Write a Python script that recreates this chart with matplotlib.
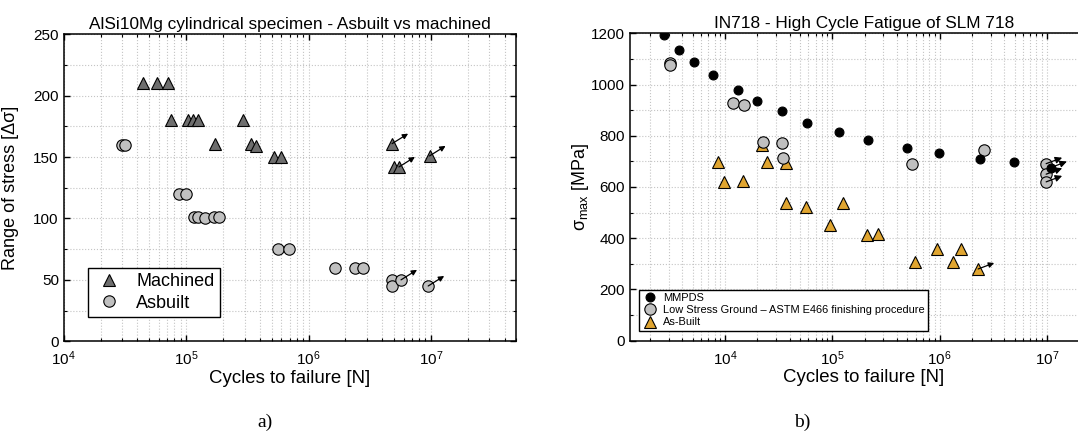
import matplotlib
matplotlib.use("Agg")
import matplotlib.pyplot as plt
from matplotlib.ticker import LogLocator, MultipleLocator, NullFormatter
from matplotlib.transforms import offset_copy

plt.rcParams['font.family'] = ['Liberation Sans', 'DejaVu Sans']
plt.rcParams['mathtext.default'] = 'regular'

# ---- a) AlSi10Mg: machined vs as-built ----
mach_N = [4.46e4, 5.8e4, 7.1e4, 7.5e4, 1.04e5, 1.14e5, 1.25e5, 2.94e5, 1.73e5,
          3.4e5, 3.7e5, 5.27e5, 5.96e5, 4.82e6, 4.98e6, 5.48e6, 9.75e6]
mach_S = [210, 210, 210, 180, 180, 180, 180, 180, 161,
          161, 159, 150, 150, 161, 142, 142, 151]
mach_runout = [False] * 13 + [True, False, True, True]

asb_N = [3.02e4, 3.16e4, 8.67e4, 9.94e4, 1.15e5, 1.25e5, 1.44e5, 1.70e5, 1.84e5,
         5.62e5, 6.87e5, 1.64e6, 2.39e6, 2.81e6, 4.84e6, 4.84e6, 5.7e6, 9.5e6]
asb_S = [160, 160, 120, 120, 101, 101, 100, 101, 101,
         75, 75, 60, 60, 60, 50, 45, 50, 45]
asb_runout = [False] * 16 + [True, True]

# ---- b) IN718 ----
mmpds_N = [2.7e3, 3.7e3, 5.12e3, 7.8e3, 1.32e4, 1.97e4, 3.37e4, 5.86e4, 1.15e5,
           2.17e5, 4.92e5, 9.97e5, 2.36e6, 4.89e6, 1.09e7]
mmpds_S = [1192, 1134, 1089, 1037, 979, 934, 895, 851, 816,
           784, 753, 733, 709, 696, 676]
mmpds_runout = [False] * 14 + [True]

lsg_N = [3.1e3, 3.1e3, 1.19e4, 1.5e4, 2.27e4, 3.4e4, 3.5e4, 5.53e5, 2.62e6,
         9.85e6, 9.85e6, 9.85e6]
lsg_S = [1085, 1075, 926, 920, 775, 771, 712, 691, 743, 691, 650, 620]
lsg_runout = [False] * 9 + [True, True, True]

ab_N = [8.57e3, 9.8e3, 1.48e4, 2.21e4, 2.49e4, 3.71e4, 3.71e4, 5.73e4, 1.26e5,
        9.6e4, 2.12e5, 2.69e5, 5.92e5, 9.47e5, 1.34e6, 1.57e6, 2.29e6]
ab_S = [696, 621, 624, 764, 696, 692, 538, 521, 538,
        450, 414, 417, 307, 358, 307, 358, 280]
ab_runout = [False] * 16 + [True]

fig = plt.figure(figsize=(10.78, 4.44), dpi=100)


def runout_arrows(ax, xs, ys, flags, dx, dy, ms=8):
    head = offset_copy(ax.transData, fig=fig, x=dx, y=dy, units='dots')
    for x, y, f in zip(xs, ys, flags):
        if f:
            ax.annotate('', xy=(x, y), xycoords=head, xytext=(x, y), textcoords='data',
                        arrowprops=dict(arrowstyle='-|>', color='k', lw=0.9,
                                        mutation_scale=ms, shrinkA=0, shrinkB=0),
                        zorder=5)


def style_axes(ax):
    ax.grid(True, which='both', color='#c4c4c4', linestyle=':', linewidth=0.8)
    ax.set_axisbelow(True)
    ax.tick_params(which='both', direction='in', top=True, right=True, labelsize=11)
    ax.tick_params(axis='x', pad=6)
    ax.tick_params(which='major', length=4.5, width=1)
    ax.tick_params(which='minor', length=2.5, width=0.8)
    for s in ax.spines.values():
        s.set_linewidth(1.1)


# left panel
ax1 = fig.add_axes([0.0591, 0.2315, 0.420, 0.691])
ax1.set_xscale('log')
ax1.plot(mach_N, mach_S, '^', ms=8.2, mfc='#6e6e6e', mec='k', mew=0.8,
         ls='none', label='Machined', zorder=3)
ax1.plot(asb_N, asb_S, 'o', ms=8.2, mfc='#c0c0c0', mec='k', mew=0.8,
         ls='none', label='Asbuilt', zorder=3)
runout_arrows(ax1, mach_N, mach_S, mach_runout, 16, 10)
runout_arrows(ax1, asb_N, asb_S, asb_runout, 16, 10)
ax1.set_xlim(1e4, 5e7)
ax1.set_ylim(0, 250)
ax1.yaxis.set_major_locator(MultipleLocator(50))
ax1.yaxis.set_minor_locator(MultipleLocator(25))
ax1.xaxis.set_minor_locator(LogLocator(base=10, subs=range(2, 10)))
ax1.xaxis.set_minor_formatter(NullFormatter())
style_axes(ax1)
ax1.set_title('AlSi10Mg cylindrical specimen - Asbuilt vs machined', fontsize=12.4, pad=4)
ax1.set_xlabel('Cycles to failure [N]', fontsize=13.4, labelpad=1)
ax1.set_ylabel('Range of stress [Δσ]', fontsize=13)
ax1.yaxis.set_label_coords(-0.099, 0.5)
leg1 = ax1.legend(loc='lower left', bbox_to_anchor=(0.053, 0.079), borderaxespad=0,
                  fontsize=13, fancybox=False, framealpha=1, edgecolor='k',
                  handletextpad=0.6, labelspacing=0.25, borderpad=0.3, handlelength=1.8)
leg1.get_frame().set_linewidth(1.0)

# right panel
ax2 = fig.add_axes([0.5843, 0.2327, 0.4343, 0.6923])
ax2.set_xscale('log')
ax2.plot(mmpds_N, mmpds_S, 'o', ms=6.4, mfc='k', mec='k', mew=0.8,
         ls='none', label='MMPDS', zorder=4)
ax2.plot(lsg_N, lsg_S, 'o', ms=8.2, mfc='#c0c0c0', mec='k', mew=0.8, ls='none',
         label='Low Stress Ground \u2013 ASTM E466 finishing procedure', zorder=3)
ax2.plot(ab_N, ab_S, '^', ms=8.2, mfc='#e0a530', mec='k', mew=0.8,
         ls='none', label='As-Built', zorder=2)
runout_arrows(ax2, mmpds_N, mmpds_S, mmpds_runout, 16, 6, ms=10)
runout_arrows(ax2, lsg_N, lsg_S, lsg_runout, 16, 6, ms=10)
runout_arrows(ax2, ab_N, ab_S, ab_runout, 16, 6)
ax2.set_xlim(1.3e3, 3e7)
ax2.set_ylim(0, 1200)
ax2.yaxis.set_major_locator(MultipleLocator(200))
ax2.yaxis.set_minor_locator(MultipleLocator(100))
ax2.xaxis.set_minor_locator(LogLocator(base=10, subs=range(2, 10)))
ax2.xaxis.set_minor_formatter(NullFormatter())
style_axes(ax2)
ax2.spines['right'].set_visible(False)
ax2.set_title('IN718 - High Cycle Fatigue of SLM 718', fontsize=12.4, pad=4)
ax2.set_xlabel('Cycles to failure [N]', fontsize=13.4, labelpad=1)
ax2.set_ylabel('σ$_{max}$ [MPa]', fontsize=13)
ax2.yaxis.set_label_coords(-0.083, 0.5)
leg2 = ax2.legend(loc='lower left', bbox_to_anchor=(0.019, 0.0325), borderaxespad=0,
                  fontsize=7.9, fancybox=False, framealpha=1, edgecolor='k',
                  handletextpad=0.5, labelspacing=0.2, borderpad=0.3, handlelength=1.4)
leg2.get_frame().set_linewidth(1.0)

fig.text(265 / 1078, 1 - 422 / 444, 'a)', family='Liberation Serif', fontsize=14,
         ha='center', va='center')
fig.text(802 / 1078, 1 - 422 / 444, 'b)', family='Liberation Serif', fontsize=14,
         ha='center', va='center')

fig.savefig('out.png', dpi=100)
